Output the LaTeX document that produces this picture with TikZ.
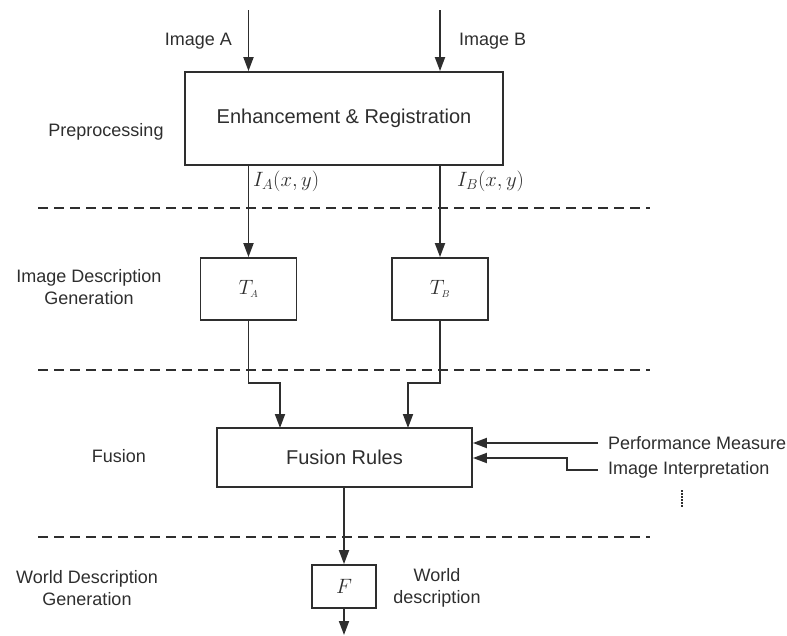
\documentclass[tikz,border=0pt]{standalone}
\usepackage{fontspec}
\setmainfont{Liberation Sans}
\usetikzlibrary{arrows.meta,calc}
\definecolor{ink}{HTML}{2E2E2E}
\begin{document}
\begin{tikzpicture}[x=1pt,y=-1pt,
  font=\fontsize{18}{21.5}\selectfont,
  every node/.style={text=ink},
  box/.style={draw=ink,line width=1.8pt,inner sep=0pt,fill=white,
    font=\fontsize{20}{24}\selectfont},
  arr/.style={draw=ink,line width=1.8pt,-{Triangle[length=14pt,width=10pt]}},
  layer/.style={draw=ink,line width=1.6pt,dash pattern=on 10pt off 6pt},
  lbl/.style={align=center,inner sep=0pt}]
\useasboundingbox (0,0) rectangle (787,635);

% stage separators
\draw[layer] (38,208) -- (650,208);
\draw[layer] (38,370) -- (650,370);
\draw[layer] (38,537) -- (650,537);

% processing blocks
\node[box,minimum width=318pt,minimum height=93pt] (enh) at (344,118.5) {Enhancement \& Registration};
\node[box,minimum width=96pt,minimum height=62pt] (ta) at (248.5,289) {$T_{\scriptscriptstyle A}$};
\node[box,minimum width=96pt,minimum height=62pt] (tb) at (440,289) {$T_{\scriptscriptstyle B}$};
\node[box,minimum width=255pt,minimum height=59pt] (fus) at (344.5,457.5) {Fusion Rules};
\node[box,minimum width=64pt,minimum height=43pt] (f) at (344,586.5) {$F$};

% stage names
\node[lbl] (s1) at (106,132) {Preprocessing};
\node[lbl] (s2) at (89,287) {Image Description\\Generation};
\node[lbl] (s3) at (119,456) {Fusion};
\node[lbl] (s4) at (87,588) {World Description\\Generation};
\node[lbl] (wd) at (437,588) {World\\description};

% inputs
\coordinate (ia) at (248.5,10);
\coordinate (ib) at (440,10);
\node[lbl,anchor=east] (la) at (232,41) {Image A};
\node[lbl,anchor=west] (lb) at (459,41) {Image B};
\draw[arr] (ia) -- (ia |- enh.north);
\draw[arr] (ib) -- (ib |- enh.north);

% registered images
\draw[arr] (enh.south -| ta) -- (ta.north);
\draw[arr] (enh.south -| tb) -- (tb.north);
\node[anchor=west,inner sep=0pt] (ila) at (253,181) {\fontsize{20}{22}\selectfont$I_A(x,y)$};
\node[anchor=west,inner sep=0pt] (ilb) at (457,181) {\fontsize{20}{22}\selectfont$I_B(x,y)$};

% descriptions into fusion
\coordinate (fa) at (280,428);
\coordinate (fb) at (408,428);
\draw[arr] (ta.south) -- ++(0,62) -| (fa);
\draw[arr] (tb.south) -- ++(0,62) -| (fb);

% side information
\node[anchor=west,inner sep=0pt,inner xsep=10pt] (pm) at (598,443) {Performance Measure};
\node[anchor=west,inner sep=0pt,inner xsep=10pt] (ii) at (598,470) {Image Interpretation};
\draw[arr] (pm.west) -- (fus.east |- pm.west);
\coordinate (bend) at (567,458);
\draw[arr] (ii.west) -| (bend) -- (fus.east |- bend);
\draw[ink,line width=1.1pt,dash pattern=on 1.5pt off 1.5pt] (682,490) -- (682,507);

% fused output
\coordinate (out) at (344,635);
\draw[arr] (fus.south -| f) -- (f.north);
\draw[arr] (f.south) -- (out);
\end{tikzpicture}
\end{document}
